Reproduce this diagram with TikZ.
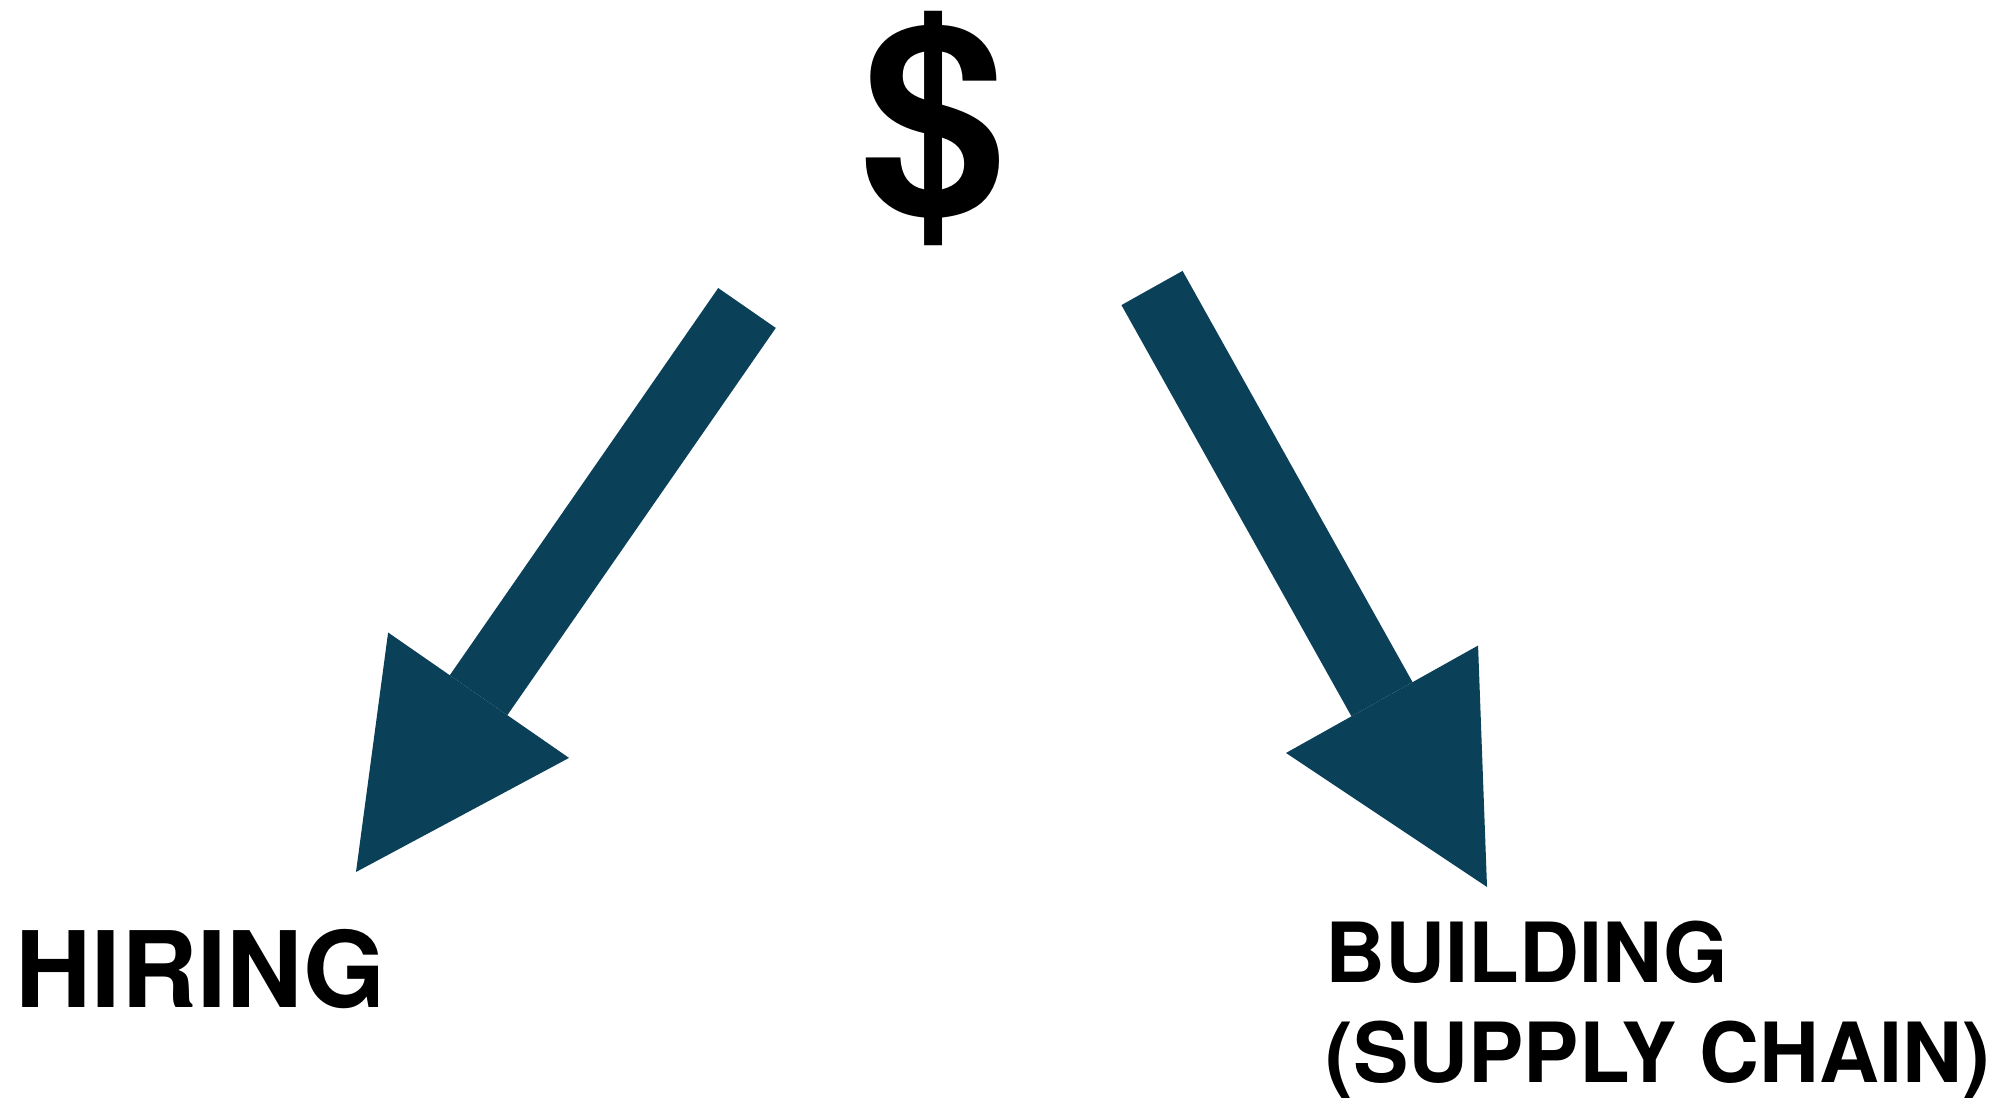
\documentclass[tikz,border=0pt]{standalone}
\usepackage{fontspec}
\setmainfont{TeX Gyre Heros}
\usetikzlibrary{positioning,arrows.meta}
\definecolor{deepteal}{RGB}{11,64,89}

\begin{document}
\begin{tikzpicture}[
  x=0.01cm, y=-0.01cm,
  label/.style={inner sep=0pt,font=\bfseries},
  bigarrow/.style={draw=deepteal,line width=0.7cm,
                   -{Triangle[length=2.15cm,width=2.2cm,line width=0pt]}}]

\useasboundingbox (0,0) rectangle (2010,1098);

% --- money on top, the two uses below ---
\node[label,anchor=base,font=\fontsize{75}{80}\selectfont\bfseries] (cash) at (934,213) {\$};

\node[label,anchor=base west,font=\fontsize{30}{36}\selectfont\bfseries] (hiring) at (15,1007)
  {HIRING};

% base anchor sits on the last line here
\node[label,anchor=base west,align=left,font=\fontsize{23.6}{28.4}\selectfont\bfseries] (building)
  at (1325,1082) {BUILDING\\(SUPPLY CHAIN)};

% --- block arrows ---
\coordinate (ltail) at (747,308);
\coordinate (ltip)  at (356,872);
\coordinate (rtail) at (1152,288);
\coordinate (rtip)  at (1487,887);

\draw[bigarrow] (ltail) -- (ltip);
\draw[bigarrow] (rtail) -- (rtip);

\end{tikzpicture}
\end{document}
